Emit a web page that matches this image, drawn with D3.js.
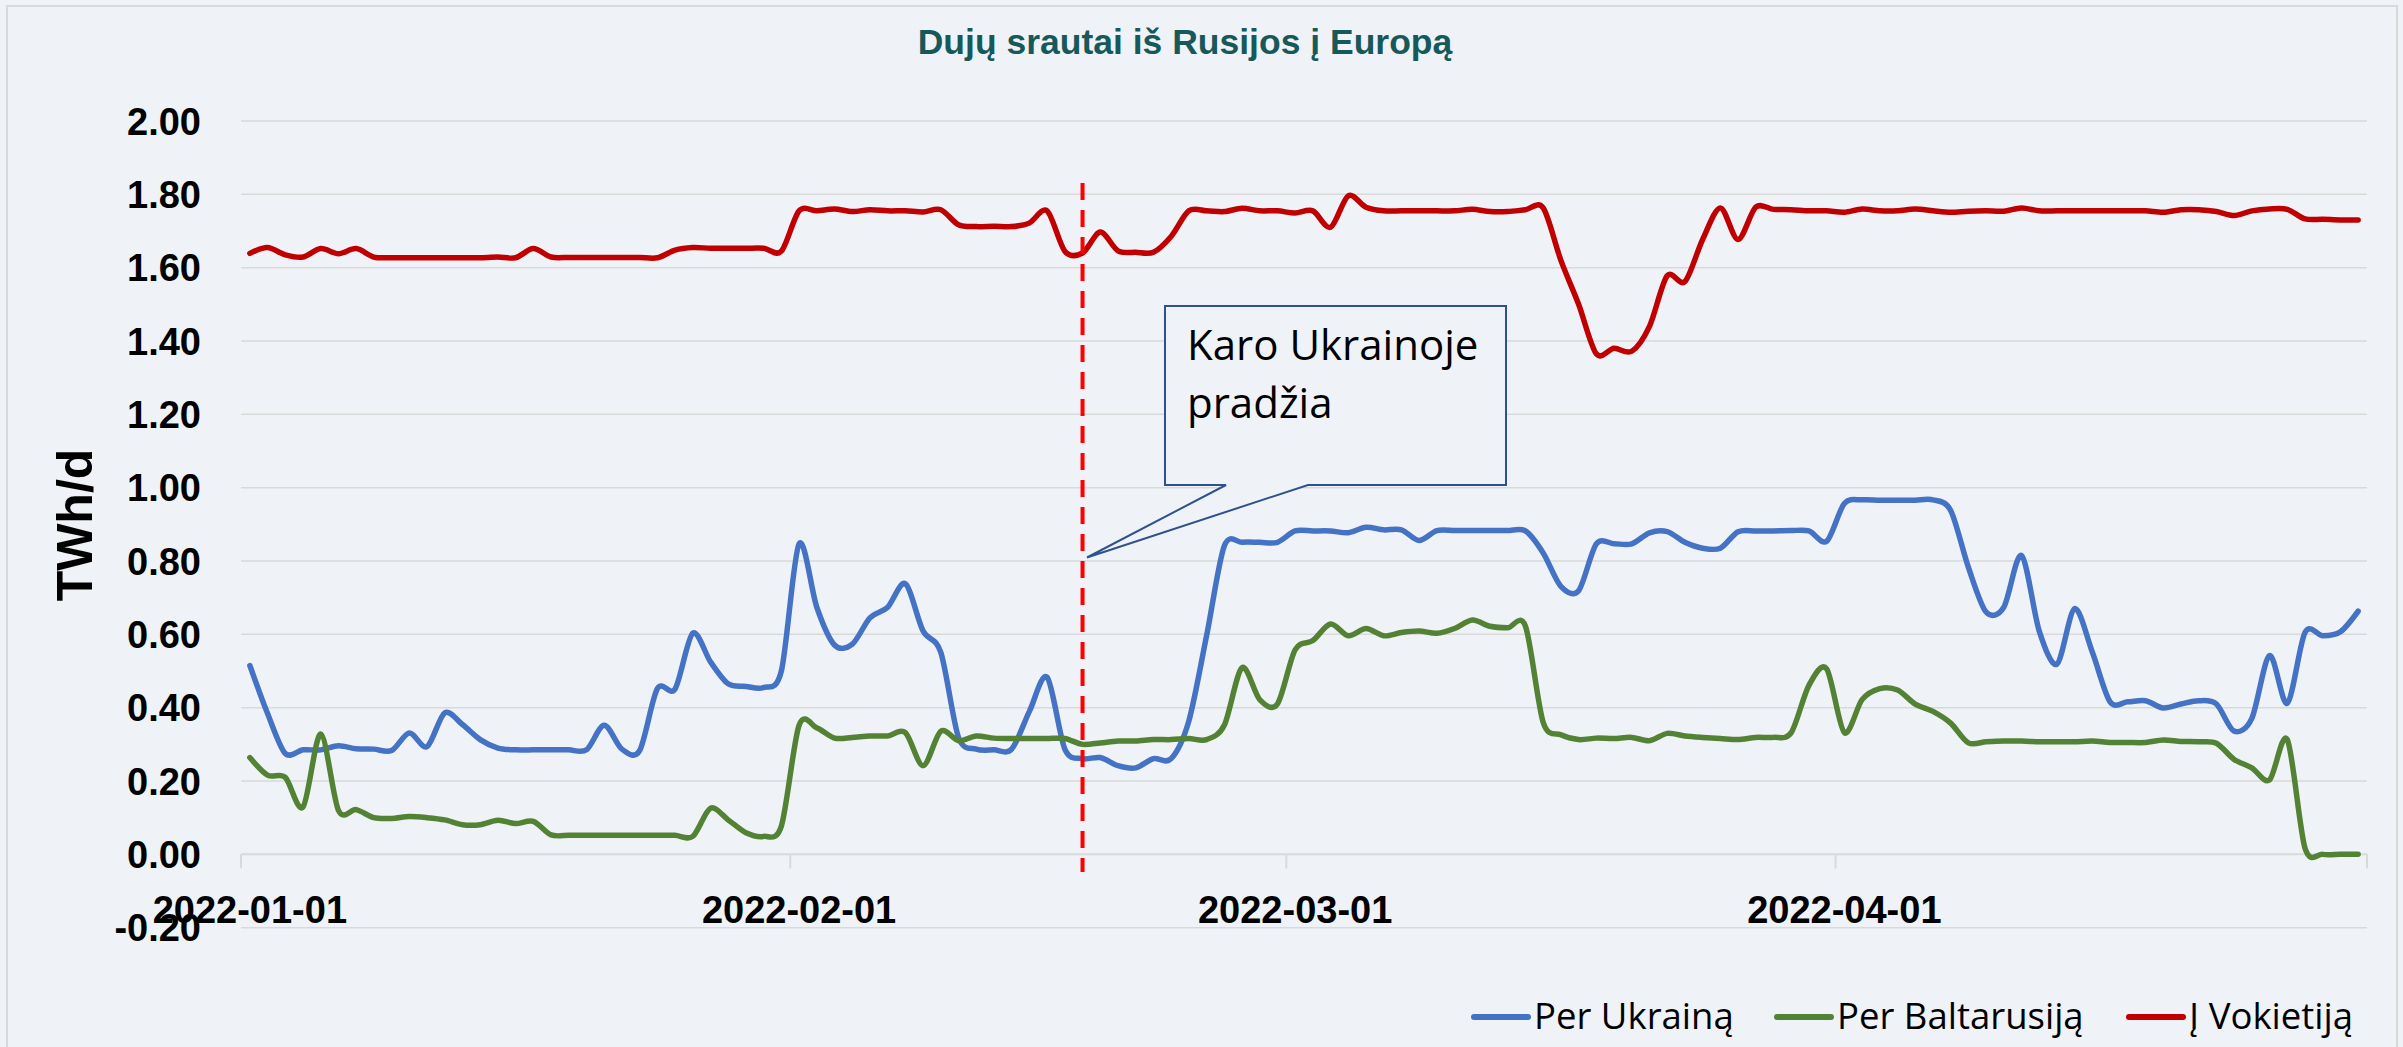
<!DOCTYPE html>
<html><head><meta charset="utf-8">
<script src="https://cdn.jsdelivr.net/npm/d3@7"></script>
<style>
html,body{margin:0;padding:0;background:#EFF3F7;}
svg{display:block;}
</style></head>
<body>
<svg id="chart" width="2403" height="1047"></svg>
<script>
// ---------- DATA ----------
const startDate = "2022-01-01";
const endDate = "2022-05-01";
const seriesNames = ["Per Ukrainą", "Per Baltarusiją", "Į Vokietiją"];
const yTicks = [-0.2, 0, 0.2, 0.4, 0.6, 0.8, 1.0, 1.2, 1.4, 1.6, 1.8, 2.0];
const xTickLabels = ["2022-01-01", "2022-02-01", "2022-03-01", "2022-04-01"];
const warStartDate = "2022-02-17";
const annotationLines = ["Karo Ukrainoje", "pradžia"];
const titleText = "Dujų srautai iš Rusijos į Europą";
const yAxisTitle = "TWh/d";

const perUkraina = [
0.515,0.384,0.275,0.285,0.285,0.296,0.288,0.287,0.283,0.331,
0.294,0.386,0.354,0.313,0.290,0.285,0.285,0.285,0.285,0.285,
0.352,0.287,0.283,0.452,0.451,0.603,0.525,0.465,0.458,0.455,
0.500,0.847,0.674,0.571,0.573,0.645,0.674,0.738,0.609,0.551,
0.319,0.287,0.285,0.287,0.390,0.483,0.287,0.261,0.264,0.242,
0.236,0.261,0.261,0.364,0.596,0.841,0.851,0.851,0.851,0.882,
0.882,0.882,0.877,0.892,0.885,0.885,0.856,0.883,0.883,0.883,
0.883,0.883,0.882,0.822,0.731,0.719,0.847,0.847,0.847,0.877,
0.880,0.851,0.835,0.835,0.880,0.882,0.882,0.883,0.882,0.854,
0.957,0.967,0.966,0.966,0.966,0.967,0.938,0.783,0.661,0.674,
0.815,0.609,0.519,0.670,0.551,0.416,0.416,0.419,0.399,0.410,
0.419,0.410,0.336,0.371,0.542,0.412,0.605,0.596,0.607,0.663];

const perBaltarusija = [
0.264,0.216,0.210,0.129,0.328,0.120,0.122,0.100,0.098,0.103,
0.100,0.094,0.081,0.081,0.093,0.084,0.090,0.053,0.052,0.052,
0.052,0.052,0.052,0.052,0.052,0.049,0.126,0.094,0.059,0.049,
0.077,0.352,0.345,0.317,0.319,0.323,0.323,0.332,0.242,0.336,
0.310,0.323,0.317,0.316,0.316,0.316,0.316,0.300,0.304,0.309,
0.309,0.313,0.313,0.316,0.313,0.352,0.509,0.422,0.410,0.558,
0.583,0.628,0.596,0.616,0.596,0.605,0.609,0.603,0.616,0.639,
0.622,0.618,0.622,0.360,0.326,0.313,0.317,0.316,0.319,0.310,
0.330,0.323,0.319,0.316,0.313,0.319,0.319,0.332,0.461,0.506,
0.332,0.422,0.452,0.448,0.410,0.390,0.358,0.304,0.307,0.309,
0.309,0.307,0.307,0.307,0.309,0.305,0.305,0.305,0.312,0.308,
0.307,0.303,0.259,0.236,0.203,0.313,0.017,0.000,0.000,0.000];

const iVokietija = [
1.639,1.655,1.635,1.629,1.652,1.638,1.652,1.629,1.627,1.627,
1.627,1.627,1.627,1.627,1.629,1.627,1.652,1.629,1.628,1.628,
1.628,1.628,1.628,1.627,1.648,1.655,1.653,1.653,1.653,1.653,
1.645,1.755,1.755,1.760,1.753,1.758,1.755,1.755,1.752,1.758,
1.717,1.712,1.713,1.712,1.722,1.755,1.645,1.640,1.697,1.646,
1.642,1.642,1.685,1.755,1.755,1.753,1.762,1.755,1.755,1.749,
1.755,1.710,1.796,1.765,1.755,1.755,1.755,1.755,1.755,1.759,
1.753,1.753,1.758,1.763,1.620,1.500,1.365,1.380,1.372,1.440,
1.578,1.562,1.677,1.763,1.677,1.765,1.759,1.758,1.755,1.755,
1.751,1.760,1.755,1.755,1.760,1.755,1.751,1.754,1.755,1.754,
1.763,1.755,1.755,1.755,1.755,1.755,1.755,1.755,1.751,1.758,
1.758,1.753,1.742,1.755,1.760,1.759,1.733,1.732,1.730,1.730];

const seriesColors = ["#4472C4", "#548235", "#C00000"];

// ---------- LAYOUT ----------
const W = 2403, H = 1047;
const bg = "#EFF3F7";
const plot = {left: 241, right: 2367, top: 121, bottom: 927.7};

const parse = d3.utcParse("%Y-%m-%d");
const days = d3.utcDay.range(parse(startDate), parse(endDate));
const half = d => new Date(d.getTime() + 12 * 3600 * 1000);

const x = d3.scaleUtc().domain([parse(startDate), parse(endDate)]).range([plot.left, plot.right]);
const y = d3.scaleLinear().domain([-0.2, 2.0]).range([plot.bottom, plot.top]);

const svg = d3.select("#chart");
svg.append("rect").attr("width", W).attr("height", H).attr("fill", bg);
// chart border
svg.append("rect").attr("x", 7).attr("y", 6).attr("width", 2390).attr("height", 1060)
  .attr("fill", "none").attr("stroke", "#D9D9D9").attr("stroke-width", 2);

// title
svg.append("text").attr("x", 1185).attr("y", 54).attr("text-anchor", "middle")
  .attr("font-family", "'Liberation Sans', Arial, sans-serif").attr("font-weight", "bold")
  .attr("font-size", 35.5).attr("fill", "#17595A").text(titleText);

// gridlines
svg.append("g").selectAll("line").data(yTicks).join("line")
  .attr("x1", plot.left).attr("x2", plot.right)
  .attr("y1", d => y(d)).attr("y2", d => y(d))
  .attr("stroke", "#D9D9D9").attr("stroke-width", d => d === 0 ? 2 : 1.5);

// y tick labels
svg.append("g").selectAll("text").data(yTicks).join("text")
  .attr("x", 201).attr("y", d => y(d) + 13.7).attr("text-anchor", "end")
  .attr("font-family", "'Liberation Sans', Arial, sans-serif").attr("font-weight", "bold")
  .attr("font-size", 38).attr("fill", "#000").text(d => d.toFixed(2));

// x axis ticks (month boundaries)
const monthTicks = d3.utcMonth.range(parse(startDate), new Date(parse(endDate).getTime() + 1));
svg.append("g").selectAll("line").data(monthTicks).join("line")
  .attr("x1", d => x(d)).attr("x2", d => x(d))
  .attr("y1", y(0)).attr("y2", y(0) + 14)
  .attr("stroke", "#D9D9D9").attr("stroke-width", 2);

// x tick labels (centered on category)
svg.append("g").selectAll("text").data(xTickLabels).join("text")
  .attr("x", d => x(half(parse(d)))).attr("y", 923).attr("text-anchor", "middle")
  .attr("font-family", "'Liberation Sans', Arial, sans-serif").attr("font-weight", "bold")
  .attr("font-size", 38).attr("fill", "#000").text(d => d);

// y axis title
svg.append("text").attr("transform", "translate(92,525) rotate(-90)")
  .attr("text-anchor", "middle")
  .attr("font-family", "'Liberation Sans', Arial, sans-serif").attr("font-weight", "bold")
  .attr("font-size", 50).attr("fill", "#000").text(yAxisTitle);

// series
const allSeries = [perUkraina, perBaltarusija, iVokietija];
const line = d3.line()
  .x((d, i) => x(half(days[i])))
  .y(d => y(d))
  .curve(d3.curveCardinal.tension(0.1));

svg.append("g").selectAll("path").data(allSeries).join("path")
  .attr("d", d => line(d))
  .attr("fill", "none")
  .attr("stroke", (d, i) => seriesColors[i])
  .attr("stroke-width", 5.5)
  .attr("stroke-linejoin", "round").attr("stroke-linecap", "round");

// war start dashed line
const wx = x(half(parse(warStartDate)));
svg.append("line").attr("x1", wx).attr("x2", wx).attr("y1", 183).attr("y2", 872)
  .attr("stroke", "#FF0000").attr("stroke-width", 4).attr("stroke-dasharray", "17,10");

// annotation callout
const callout = d3.path();
callout.moveTo(1165, 306); callout.lineTo(1506, 306); callout.lineTo(1506, 485);
callout.lineTo(1308, 485); callout.lineTo(1087, 557.5); callout.lineTo(1226, 485);
callout.lineTo(1165, 485); callout.closePath();
svg.append("path").attr("d", callout.toString()).attr("fill", bg)
  .attr("stroke", "#2F528F").attr("stroke-width", 2).attr("stroke-linejoin", "miter");

svg.append("g").selectAll("text").data(annotationLines).join("text")
  .attr("x", 1187).attr("y", (d, i) => 360 + i * 58)
  .attr("font-family", "'Open Sans', 'Noto Sans', sans-serif")
  .attr("font-size", 42).attr("fill", "#000").text(d => d);

// legend
const legendX = [1474, 1777, 2129];
const lg = svg.append("g").selectAll("g").data(seriesNames).join("g")
  .attr("transform", (d, i) => `translate(${legendX[i]},1017)`);
lg.append("line").attr("x1", 0).attr("x2", 54).attr("y1", 0).attr("y2", 0)
  .attr("stroke", (d, i) => seriesColors[i]).attr("stroke-width", 6).attr("stroke-linecap", "round");
lg.append("text").attr("x", 60).attr("y", 11.5)
  .attr("font-family", "'Open Sans', 'Noto Sans', sans-serif")
  .attr("font-size", 36.5).attr("fill", "#000").text(d => d);
</script>
</body></html>
